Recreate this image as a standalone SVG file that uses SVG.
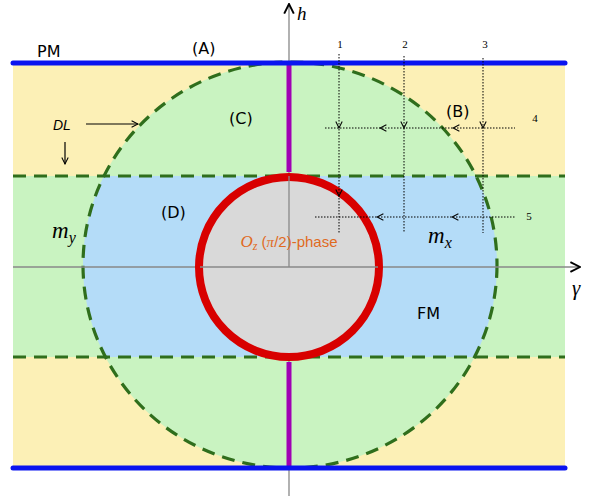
<svg xmlns="http://www.w3.org/2000/svg" width="596" height="496" viewBox="0 0 596 496">
<style>
.dash{fill:none;stroke:#2f6e1c;stroke-width:3.2;stroke-dasharray:13 8}
.blue{stroke:#0a14f0;stroke-width:5;stroke-linecap:round}
.dot{stroke:#000;stroke-width:1;stroke-dasharray:1.5 1.5;fill:none}
.lab{font-family:"DejaVu Sans",sans-serif;font-size:16px;fill:#000}
.num{font-family:"Liberation Serif",serif;font-size:11px;fill:#000}
.it{font-family:"Liberation Serif",serif;font-style:italic;fill:#000}
</style>
<defs>
<clipPath id="cc"><ellipse cx="290" cy="265" rx="207" ry="203"/></clipPath>
<marker id="ah" viewBox="0 0 10 10" refX="9" refY="5" markerWidth="8" markerHeight="8" orient="auto" markerUnits="userSpaceOnUse">
<path d="M1,1 L9,5 L1,9" fill="none" stroke="#000" stroke-width="1.3"/>
</marker>
<marker id="ahb" viewBox="0 0 10 10" refX="9" refY="5" markerWidth="12" markerHeight="12" orient="auto" markerUnits="userSpaceOnUse">
<path d="M1,1 L9,5 L1,9" fill="none" stroke="#000" stroke-width="1.6"/>
</marker>
</defs>
<g id="background">
<rect x="13" y="63" width="552" height="405" fill="#fcf0b6"/>
<rect x="13" y="176" width="552" height="181" fill="#c9f3c1"/>
<g clip-path="url(#cc)">
<rect x="13" y="63" width="552" height="405" fill="#c9f3c1"/>
<rect x="13" y="176" width="552" height="181" fill="#b4dcf8"/>
</g>
</g>
<g id="boundaries">
<line class="dash" x1="13" y1="176" x2="565" y2="176"/>
<line class="dash" x1="13" y1="357" x2="565" y2="357"/>
<ellipse class="dash" cx="290" cy="265" rx="207" ry="203"/>
</g>
<g id="axes">
<line x1="13" y1="267" x2="580" y2="267" stroke="#888" stroke-width="1.3" marker-end="url(#ahb)"/>
<line x1="289" y1="496" x2="289" y2="4" stroke="#888" stroke-width="1.3" marker-end="url(#ahb)"/>
<text class="it" x="297" y="20" font-size="19">h</text>
<text class="it" x="572" y="295" font-size="21">γ</text>
</g>
<g id="oz">
<circle cx="289" cy="267" r="90" fill="#d9d9d9" stroke="#d80000" stroke-width="8"/>
<line x1="289" y1="267" x2="289" y2="176" stroke="#888" stroke-width="1.3"/>
<line x1="200" y1="267" x2="378" y2="267" stroke="#888" stroke-width="1.3"/>
<text x="289" y="247" text-anchor="middle" font-family="Liberation Sans,sans-serif" font-size="15" fill="#e06a1e"><tspan font-family="Liberation Serif,serif" font-style="italic" font-size="17">O</tspan><tspan font-family="Liberation Serif,serif" font-style="italic" font-size="12" dy="3">z</tspan><tspan dy="-3"> (</tspan><tspan font-family="Liberation Serif,serif" font-style="italic">π</tspan><tspan>/2)-phase</tspan></text>
</g>
<g id="purple">
<line x1="289" y1="63" x2="289" y2="172" stroke="#a000b4" stroke-width="5"/>
<line x1="289" y1="362" x2="289" y2="468" stroke="#a000b4" stroke-width="5"/>
</g>
<g id="pm-lines">
<line class="blue" x1="13" y1="63" x2="565" y2="63"/>
<line class="blue" x1="13" y1="468" x2="565" y2="468"/>
</g>
<g id="labels">
<text class="lab" x="37" y="57" font-size="18">PM</text>
<text class="lab" x="192" y="54">(A)</text>
<text class="lab" x="229" y="124">(C)</text>
<text class="lab" x="446" y="117">(B)</text>
<text class="lab" x="161" y="218">(D)</text>
<text class="lab" x="417" y="319" font-size="17">FM</text>
<text font-family="Liberation Sans,sans-serif" font-style="italic" font-size="14" x="53" y="130">DL</text>
<text class="it" x="52" y="238" font-size="23">m<tspan font-size="16" dy="5">y</tspan></text>
<text class="it" x="428" y="243" font-size="23">m<tspan font-size="16" dy="5">x</tspan></text>
</g>
<g id="connectors">
<line x1="86" y1="124" x2="138" y2="124" stroke="#000" stroke-width="1.2" marker-end="url(#ah)"/>
<line x1="65" y1="142" x2="65" y2="164" stroke="#000" stroke-width="1.2" marker-end="url(#ah)"/>
<line class="dot" x1="339" y1="54" x2="339" y2="233"/>
<line class="dot" x1="404" y1="56" x2="404" y2="233"/>
<line class="dot" x1="483" y1="58" x2="483" y2="233"/>
<line class="dot" x1="325" y1="128" x2="515" y2="128"/>
<line class="dot" x1="315" y1="217" x2="515" y2="217"/>
<line x1="339" y1="120" x2="339" y2="128" stroke="none" marker-end="url(#ah)"/>
<line x1="404" y1="120" x2="404" y2="128" stroke="none" marker-end="url(#ah)"/>
<line x1="483" y1="120" x2="483" y2="128" stroke="none" marker-end="url(#ah)"/>
<line x1="339" y1="188" x2="339" y2="196" stroke="none" marker-end="url(#ah)"/>
<line x1="390" y1="128" x2="380" y2="128" stroke="none" marker-end="url(#ah)"/>
<line x1="463" y1="128" x2="453" y2="128" stroke="none" marker-end="url(#ah)"/>
<line x1="387" y1="217" x2="377" y2="217" stroke="none" marker-end="url(#ah)"/>
<line x1="462" y1="217" x2="452" y2="217" stroke="none" marker-end="url(#ah)"/>
<text class="num" x="340" y="48" text-anchor="middle">1</text>
<text class="num" x="405" y="48" text-anchor="middle">2</text>
<text class="num" x="485" y="48" text-anchor="middle">3</text>
<text class="num" x="535" y="122" text-anchor="middle">4</text>
<text class="num" x="529" y="220" text-anchor="middle">5</text>
</g>
</svg>
